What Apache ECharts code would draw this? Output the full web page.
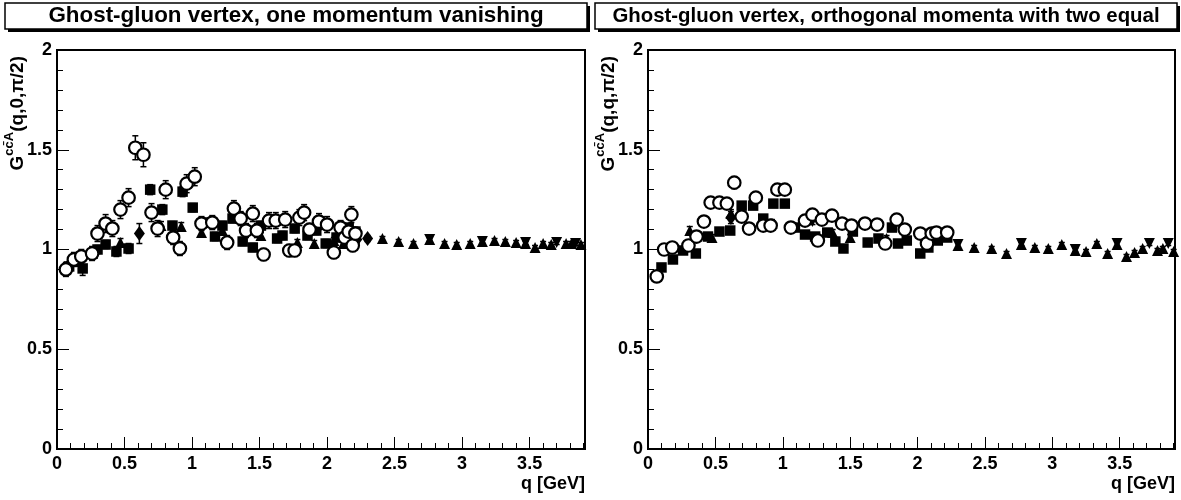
<!DOCTYPE html>
<html><head><meta charset="utf-8">
<script src="https://cdn.jsdelivr.net/npm/echarts@6/dist/echarts.min.js"></script>
<style>html,body{margin:0;padding:0;background:#fff}#c{width:1181px;height:500px}</style>
</head><body><div id="c"></div>
<script>
// ---- data: [q, G, error] ----
const leftCircles = [[0.066,0.90,0.035],[0.125,0.95,0.035],[0.18,0.965,0.035],[0.26,0.98,0.035],[0.30,1.08,0.04],[0.36,1.13,0.045],[0.41,1.105,0.04],[0.47,1.20,0.045],[0.53,1.26,0.045],[0.58,1.51,0.06],[0.64,1.475,0.06],[0.70,1.185,0.045],[0.745,1.105,0.04],[0.805,1.30,0.045],[0.86,1.06,0.035],[0.91,1.005,0.035],[0.96,1.33,0.045],[1.02,1.365,0.045],[1.07,1.13,0.035],[1.15,1.135,0.035],[1.26,1.035,0.035],[1.31,1.205,0.04],[1.36,1.155,0.035],[1.40,1.095,0.035],[1.45,1.18,0.04],[1.48,1.095,0.035],[1.53,0.975,0.03],[1.57,1.145,0.04],[1.62,1.145,0.04],[1.69,1.15,0.04],[1.72,0.995,0.03],[1.76,0.995,0.03],[1.795,1.16,0.04],[1.83,1.185,0.04],[1.87,1.10,0.03],[1.94,1.14,0.04],[2.00,1.125,0.04],[2.05,0.985,0.03],[2.10,1.11,0.035],[2.13,1.06,0.03],[2.16,1.09,0.03],[2.18,1.175,0.04],[2.19,1.02,0.03],[2.21,1.08,0.03]];
const leftSquares = [[0.09,0.915,0.025],[0.19,0.905,0.035],[0.265,0.98,0.02],[0.30,1.00,0.02],[0.36,1.025,0.02],[0.44,0.99,0.025],[0.53,1.005,0.025],[0.69,1.30,0.025],[0.78,1.20,0.025],[0.855,1.12,0.02],[0.93,1.29,0.025],[1.005,1.21,0.02],[1.11,1.135,0.02],[1.17,1.065,0.02],[1.225,1.12,0.02],[1.30,1.155,0.02],[1.375,1.04,0.02],[1.45,1.01,0.02],[1.51,1.12,0.02],[1.63,1.055,0.02],[1.67,1.07,0.02],[1.76,1.105,0.02],[1.855,1.07,0.02],[1.92,1.095,0.02],[1.99,1.03,0.02],[2.07,1.06,0.02],[2.16,1.11,0.02],[2.20,1.055,0.02],[2.21,1.09,0.02]];
const leftTriangles = [[0.13,0.94,0.01],[0.47,1.035,0.02],[0.77,1.12,0.02],[0.92,1.115,0.02],[1.07,1.085,0.015],[1.225,1.095,0.015],[1.51,1.07,0.015],[1.78,1.035,0.015],[1.905,1.03,0.015],[2.05,1.045,0.015],[2.12,1.03,0.015],[2.41,1.055,0.01],[2.53,1.04,0.01],[2.64,1.03,0.01],[2.76,1.05,0.01],[2.87,1.03,0.01],[2.96,1.025,0.01],[3.06,1.03,0.01],[3.15,1.04,0.01],[3.24,1.045,0.01],[3.32,1.04,0.01],[3.40,1.035,0.01],[3.47,1.03,0.01],[3.54,1.01,0.01],[3.60,1.03,0.01],[3.66,1.025,0.01],[3.77,1.03,0.01],[3.81,1.03,0.01],[3.88,1.025,0.01]];
const leftInverted = [[2.76,1.05,0.01],[3.15,1.04,0.01],[3.47,1.035,0.01],[3.70,1.035,0.01],[3.84,1.03,0.01]];
const leftDiamonds = [[0.61,1.08,0.05],[2.22,1.05,0.015],[2.30,1.055,0.015]];

const rightCircles = [[0.065,0.865,0.02],[0.12,1.00,0.02],[0.18,1.01,0.02],[0.30,1.02,0.02],[0.36,1.065,0.02],[0.415,1.14,0.02],[0.465,1.235,0.02],[0.53,1.235,0.02],[0.585,1.23,0.02],[0.64,1.335,0.03],[0.695,1.165,0.02],[0.75,1.105,0.02],[0.80,1.26,0.025],[0.855,1.12,0.02],[0.91,1.12,0.02],[0.96,1.30,0.02],[1.015,1.30,0.02],[1.06,1.11,0.02],[1.165,1.145,0.02],[1.22,1.175,0.025],[1.26,1.045,0.02],[1.29,1.15,0.015],[1.365,1.17,0.015],[1.44,1.13,0.015],[1.51,1.12,0.015],[1.61,1.13,0.015],[1.70,1.125,0.015],[1.76,1.03,0.015],[1.845,1.15,0.015],[1.905,1.10,0.015],[2.02,1.08,0.015],[2.07,1.03,0.015],[2.105,1.08,0.015],[2.14,1.085,0.015],[2.22,1.085,0.015]];
const rightSquares = [[0.10,0.91,0.015],[0.185,0.95,0.015],[0.26,0.995,0.015],[0.355,0.98,0.015],[0.445,1.065,0.015],[0.53,1.09,0.015],[0.61,1.095,0.015],[0.695,1.22,0.015],[0.78,1.22,0.015],[0.855,1.155,0.015],[0.93,1.23,0.015],[1.015,1.23,0.015],[1.09,1.11,0.015],[1.165,1.075,0.015],[1.24,1.065,0.015],[1.33,1.085,0.015],[1.39,1.04,0.015],[1.45,1.005,0.015],[1.52,1.09,0.015],[1.63,1.035,0.015],[1.71,1.055,0.015],[1.81,1.11,0.015],[1.855,1.03,0.015],[1.92,1.045,0.015],[2.02,0.98,0.015],[2.08,1.01,0.015],[2.15,1.045,0.015],[2.22,1.06,0.015]];
const rightTriangles = [[0.31,1.095,0.02],[0.475,1.06,0.015],[0.615,1.18,0.02],[0.92,1.13,0.02],[1.37,1.085,0.015],[1.50,1.06,0.015],[1.77,1.055,0.015],[2.30,1.02,0.01],[2.42,1.01,0.01],[2.55,1.005,0.01],[2.66,0.98,0.01],[2.77,1.025,0.01],[2.87,1.01,0.01],[2.97,1.005,0.01],[3.07,1.025,0.01],[3.17,0.995,0.01],[3.25,0.99,0.01],[3.33,1.03,0.01],[3.41,0.98,0.01],[3.48,1.025,0.01],[3.55,0.965,0.01],[3.61,0.985,0.01],[3.67,1.005,0.01],[3.78,0.995,0.01],[3.82,1.005,0.01],[3.90,0.99,0.01]];
const rightInverted = [[1.22,1.14,0.015],[2.30,1.025,0.01],[2.77,1.03,0.01],[3.17,1.0,0.01],[3.48,1.03,0.01],[3.72,1.03,0.01],[3.86,1.03,0.01]];
const rightDiamonds = [[0.615,1.16,0.03]];

const titles = ['Ghost-gluon vertex, one momentum vanishing', 'Ghost-gluon vertex, orthogonal momenta with two equal'];
const yNames = ['(q,0,\u03c0/2)', '(q,q,\u03c0/2)'];
const xName = 'q [GeV]';

// ---- chart ----
const FONT = 'Liberation Sans, Arial, sans-serif';
const grids = [
  {left: 57, top: 50, width: 528, height: 399},
  {left: 648, top: 50, width: 527, height: 399}
];
const XMAX = 3.91;

const xAxis = [], yAxis = [];
grids.forEach((g, i) => {
  xAxis.push({
    type: 'value', gridIndex: i, min: 0, max: XMAX, interval: 0.5, position: 'bottom',
    axisLine: {show: true, lineStyle: {color: '#000', width: 2}},
    axisTick: {show: true, inside: true, length: 12, lineStyle: {color: '#000', width: 1}},
    axisLabel: {show: true, color: '#000', fontFamily: FONT, fontWeight: 'bold', fontSize: 18, margin: 6, showMaxLabel: false},
    splitLine: {show: false}
  });
  xAxis.push({
    type: 'value', gridIndex: i, min: 0, max: XMAX, interval: 0.1, position: 'bottom',
    axisLine: {show: false},
    axisTick: {show: true, inside: true, length: 6, lineStyle: {color: '#000', width: 1}},
    axisLabel: {show: false}, splitLine: {show: false}
  });
  yAxis.push({
    type: 'value', gridIndex: i, min: 0, max: 2, interval: 0.5,
    axisLine: {show: true, lineStyle: {color: '#000', width: 2}},
    axisTick: {show: true, inside: true, length: 12, lineStyle: {color: '#000', width: 1}},
    minorTick: {show: true, splitNumber: 5, length: 6, lineStyle: {color: '#000', width: 1}},
    axisLabel: {color: '#000', fontFamily: FONT, fontWeight: 'bold', fontSize: 18, margin: 5},
    splitLine: {show: false}
  });
});

function errSeries(data, gi) {
  return {
    type: 'custom', xAxisIndex: gi * 2, yAxisIndex: gi, data: data, z: 2, silent: true,
    encode: {x: 0, y: 1},
    renderItem: function (params, api) {
      const x = api.value(0), y = api.value(1), e = api.value(2);
      const lo = api.coord([x, y - e]), hi = api.coord([x, y + e]);
      const st = {stroke: '#000', lineWidth: 1.5};
      return {type: 'group', children: [
        {type: 'line', shape: {x1: lo[0], y1: lo[1], x2: hi[0], y2: hi[1]}, style: st},
        {type: 'line', shape: {x1: lo[0] - 3, y1: lo[1], x2: lo[0] + 3, y2: lo[1]}, style: st},
        {type: 'line', shape: {x1: hi[0] - 3, y1: hi[1], x2: hi[0] + 3, y2: hi[1]}, style: st}
      ]};
    }
  };
}
function markSeries(data, gi, symbol, size, item, rot) {
  return {
    type: 'scatter', xAxisIndex: gi * 2, yAxisIndex: gi, data: data.map(d => [d[0], d[1]]),
    symbol: symbol, symbolSize: size, symbolRotate: rot || 0, z: 3, itemStyle: item, silent: true
  };
}
const filled = {color: '#000', opacity: 1};
const open = {color: '#fff', borderColor: '#000', borderWidth: 2.2, opacity: 1};
const sets = [
  [leftTriangles, leftInverted, leftDiamonds, leftSquares, leftCircles],
  [rightTriangles, rightInverted, rightDiamonds, rightSquares, rightCircles]
];
const series = [];
sets.forEach((s, gi) => {
  const [tri, inv, dia, sq, cir] = s;
  series.push(errSeries(tri, gi), markSeries(tri, gi, 'triangle', 11, filled));
  series.push(errSeries(inv, gi), markSeries(inv, gi, 'triangle', 11, filled, 180));
  series.push(errSeries(dia, gi), markSeries(dia, gi, 'diamond', [11, 15], filled));
  series.push(errSeries(sq, gi), markSeries(sq, gi, 'rect', 10.5, filled));
  series.push(errSeries(cir, gi), markSeries(cir, gi, 'circle', 12.5, open));
});

const boxes = [{x: 5, w: 582, cx: 296, fs: 22.4}, {x: 595, w: 582, cx: 886, fs: 20.4}];
const graphic = [];
boxes.forEach((b, i) => {
  graphic.push({type: 'rect', shape: {x: b.x + 3, y: 6, width: b.w, height: 26}, style: {fill: '#000'}, z: 10});
  graphic.push({type: 'rect', shape: {x: b.x, y: 3, width: b.w, height: 26}, style: {fill: '#fff', stroke: '#000', lineWidth: 1.5}, z: 11});
  graphic.push({type: 'text', x: b.cx, y: 16, z: 12, style: {text: titles[i], fill: '#000', font: 'bold ' + b.fs + 'px ' + FONT, textAlign: 'center', textVerticalAlign: 'middle'}});
  const gx = grids[i].left;
  graphic.push({type: 'text', x: gx - 42, y: 56, rotation: Math.PI / 2, z: 12, style: {
    text: '{m|G}{s|cc\u0304A}{m|' + yNames[i] + '}', textAlign: 'right', textVerticalAlign: 'middle',
    rich: {
      m: {fontFamily: FONT, fontWeight: 'bold', fontSize: 19, fill: '#000', lineHeight: 24, verticalAlign: 'bottom'},
      s: {fontFamily: FONT, fontWeight: 'bold', fontSize: 13, fill: '#000', lineHeight: 24, verticalAlign: 'top'}
    }
  }});
  graphic.push({type: 'text', x: grids[i].left + grids[i].width, y: 484, z: 12, style: {
    text: xName, fill: '#000', font: 'bold 18px ' + FONT, textAlign: 'right', textVerticalAlign: 'middle'}});
});

const chart = echarts.init(document.getElementById('c'), null, {renderer: 'canvas'});
chart.setOption({
  animation: false, backgroundColor: '#fff',
  grid: grids.map(g => Object.assign({show: true, borderColor: '#000', borderWidth: 2, backgroundColor: 'transparent'}, g)),
  xAxis: xAxis, yAxis: yAxis, series: series, graphic: graphic
});
</script></body></html>
